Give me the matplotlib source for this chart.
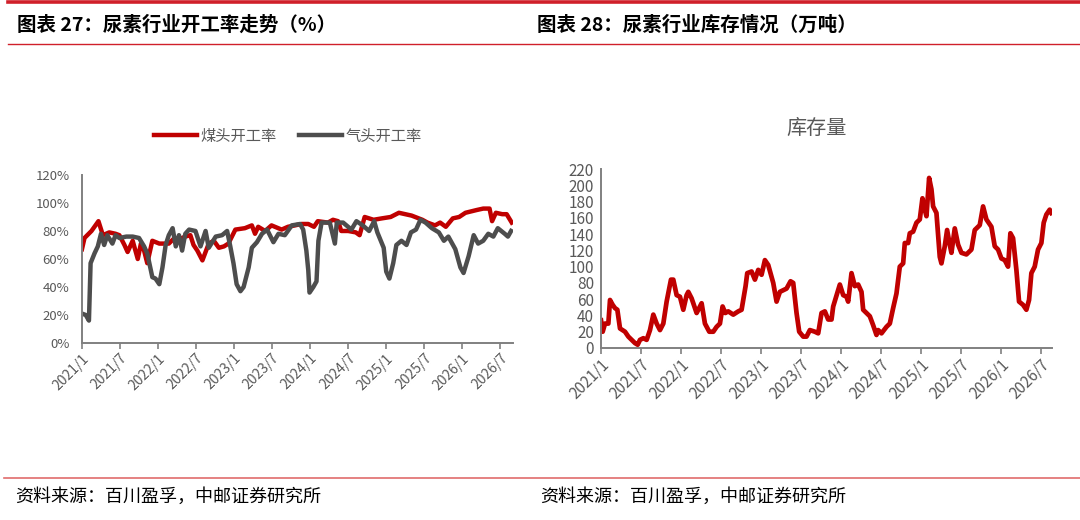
import matplotlib
matplotlib.use("Agg")
import matplotlib.pyplot as plt
from matplotlib.lines import Line2D

plt.rcParams["font.family"] = ["Noto Sans CJK SC", "DejaVu Sans"]

RED = "#C00000"
GRAY = "#4D4D4D"
TXT = "#595959"
AXC = "#808080"

# x values: months since 2021/1
tick_months = [0, 6, 12, 18, 24, 30, 36, 42, 48, 54, 60, 66]
tick_labels = ["2021/1", "2021/7", "2022/1", "2022/7", "2023/1", "2023/7",
               "2024/1", "2024/7", "2025/1", "2025/7", "2026/1", "2026/7"]

# 煤头开工率 (%)
coal_t = [0, 0.4, 1.5, 2.6, 3.3, 4.3, 5.3, 5.9, 6.7, 7.2, 8.0, 8.8, 9.3, 9.8,
          10.3, 11.1, 12.2, 13.7, 14.6, 15.3, 16.3, 17.1, 17.6, 18.2, 19.0,
          20.0, 20.8, 21.6, 22.4, 23.1, 24.2, 25.7, 26.8, 27.3, 27.8, 28.9,
          29.9, 31.5, 32.5, 33.6, 34.6, 35.7, 36.6, 37.2, 38.8, 39.6, 40.4,
          40.9, 42.0, 43.2, 43.8, 44.6, 46.0, 47.3, 48.7, 50.0, 51.0, 52.0,
          53.7, 54.5, 55.7, 56.5, 57.4, 58.5, 59.5, 60.5, 62.3, 63.3, 64.3,
          64.7, 65.3, 66.3, 67.0, 67.8]
coal_rate = [67, 75, 80, 87, 77, 79, 78, 77, 70, 65, 73, 60, 71, 66,
             57, 73, 71, 71, 75, 74, 76, 77, 70, 66, 59,
             71, 73, 68, 69, 71, 81, 82, 84, 78, 83, 80,
             84, 81, 83, 84, 85, 85, 83, 87, 86, 88, 87,
             80, 80, 79, 77, 90, 88, 89, 90, 93, 92, 91,
             88, 86, 84, 86, 83, 89, 90, 93, 95, 96, 96,
             87, 93, 92, 92, 86]

# 气头开工率 (%)
gas_t = [0, 0.6, 1.1, 1.36, 1.98, 2.5, 3.0, 3.5, 4.0, 4.8, 5.3, 5.9, 7.0, 8.0,
         9.0, 9.8, 10.3, 11.1, 11.6, 12.2, 12.7, 13.2, 13.7, 14.3, 14.8, 15.3,
         15.8, 16.3, 16.9, 17.9, 18.7, 19.5, 20.0, 21.1, 22.1, 22.9, 23.4,
         23.9, 24.4, 25.0, 25.5, 26.3, 26.8, 27.6, 28.4, 29.2, 30.2, 31.0,
         32.0, 33.1, 34.4, 34.9, 35.4, 35.7, 35.9, 36.5, 37.0, 37.3, 37.8,
         39.1, 39.9, 40.2, 41.2, 42.5, 43.3, 44.3, 45.3, 46.1, 46.6, 47.6,
         48.0, 48.5, 49.1, 49.6, 50.4, 51.2, 51.9, 52.7, 53.4, 54.2, 55.2,
         56.3, 57.1, 57.8, 58.9, 59.7, 60.2, 61.0, 61.8, 62.5, 63.3, 64.1,
         64.9, 65.6, 66.7, 67.2, 67.7]
gas_rate = [21, 20, 16, 57, 64, 69, 78, 70, 77, 71, 77, 75, 76, 76,
            75, 69, 64, 47, 46, 42, 54, 70, 77, 82, 69, 77,
            66, 78, 81, 80, 69, 80, 68, 76, 77, 80, 69,
            57, 42, 37, 40, 54, 68, 72, 78, 81, 72, 78,
            77, 84, 85, 81, 66, 52, 36, 40, 44, 73, 86,
            86, 71, 86, 86, 81, 87, 84, 80, 87, 79, 68,
            51, 46, 57, 70, 73, 70, 79, 81, 88, 86, 82,
            79, 73, 76, 67, 54, 50, 62, 77, 71, 73, 78,
            76, 82, 78, 76, 80]

# 库存量 (万吨)
stock_t = [0, 0.25, 0.6, 1.1, 1.35, 1.75, 2.1, 2.45, 2.85, 3.6, 4.1, 4.6, 5.1,
           5.5, 5.85, 6.35, 6.85, 7.35, 7.85, 8.35, 8.85, 9.35, 9.85, 10.5,
           10.85, 11.35, 11.85, 12.35, 12.85, 13.1, 13.6, 14.35, 15.1, 15.6,
           16.25, 16.85, 17.35, 17.85, 18.25, 18.65, 19.1, 19.85, 20.6, 21.1,
           21.7, 21.95, 22.6, 23.1, 23.6, 24.1, 24.6, 25.1, 25.85, 26.35,
           26.85, 27.85, 28.45, 28.85, 29.35, 29.75, 30.35, 30.85, 31.35,
           32.1, 32.6, 33.1, 33.6, 34.1, 34.6, 34.85, 35.85, 36.35, 36.85,
           37.1, 37.6, 38.1, 38.6, 39.1, 39.35, 40.35, 40.85, 41.35, 41.6,
           42.1, 42.85, 43.35, 43.85, 44.35, 44.85, 45.35, 45.6, 46.1, 46.35,
           46.85, 47.35, 47.85, 48.25, 48.6, 48.85, 49.25, 49.6, 49.85, 50.35,
           50.85, 51.1, 51.6, 51.95, 52.35, 52.6, 53.1, 53.6, 54.1, 54.85,
           55.6, 56.1, 56.85, 57.35, 57.85, 58.6, 59.1, 59.6, 60.1, 60.6,
           61.1, 61.45, 61.85, 62.35, 62.75, 63.35, 63.85, 64.25, 64.6, 65.1,
           65.6, 66.1, 66.45, 66.85, 67.35, 67.6]
stock = [34, 20, 30, 30, 59, 53, 49, 47, 24, 20, 14, 10, 6,
         4, 10, 12, 10, 22, 41, 30, 22, 30, 57, 84,
         84, 65, 63, 47, 65, 69, 61, 43, 55, 30,
         20, 20, 26, 30, 51, 43, 45, 41, 45, 47,
         76, 92, 94, 84, 96, 90, 108, 102, 80, 57,
         69, 73, 82, 80, 43, 20, 14, 14, 22,
         20, 18, 43, 45, 35, 35, 51, 78, 65, 63,
         57, 92, 76, 78, 69, 47, 39, 28, 16, 22,
         18, 26, 30, 49, 67, 100, 104, 129, 129, 141,
         143, 154, 158, 184, 170, 162, 209, 195, 174, 166,
         112, 104, 125, 145, 127, 117, 147, 127, 117, 115,
         121, 145, 151, 174, 158, 149, 125, 121, 110, 108,
         100, 141, 135, 96, 57, 53, 47, 59, 92, 100,
         121, 129, 154, 164, 170, 166]


def style_axis(ax, pad, ysize, xsize):
    for side in ("top", "right"):
        ax.spines[side].set_visible(False)
    for side in ("left", "bottom"):
        ax.spines[side].set_color(AXC)
        ax.spines[side].set_linewidth(1.4)
    ax.tick_params(axis="y", length=0, pad=pad, labelcolor=TXT, labelsize=ysize)
    ax.tick_params(axis="x", length=4, width=1.2, color=AXC, direction="out",
                   labelcolor=TXT, labelsize=xsize, pad=2)
    ax.set_xticks(tick_months)
    ax.set_xticklabels(tick_labels, rotation=45, ha="right", va="top",
                       rotation_mode="anchor")


fig = plt.figure(figsize=(10.8, 5.2), dpi=100)

ax1 = fig.add_axes([0.0759, 0.3404, 0.3991, 0.3231])
ax1.plot(coal_t, coal_rate, color=RED, lw=3.2, label="煤头开工率",
         solid_joinstyle="round")
ax1.plot(gas_t, gas_rate, color=GRAY, lw=3.2, label="气头开工率",
         solid_joinstyle="round")
ax1.set_xlim(0, 68)
ax1.set_ylim(0, 120)
ax1.set_yticks(range(0, 121, 20))
ax1.set_yticklabels([f"{v}%" for v in range(0, 121, 20)])
style_axis(ax1, 9, 9.5, 10)
fig.legend(handles=ax1.get_lines(), loc="center",
           bbox_to_anchor=(288 / 1080, 1 - 136 / 520), ncol=2, frameon=False,
           handlelength=2.8, handletextpad=0.2, columnspacing=1.5,
           prop={"size": 11}, labelcolor=TXT)

ax2 = fig.add_axes([0.5565, 0.3308, 0.4176, 0.3442])
ax2.plot(stock_t, stock, color=RED, lw=3.4, solid_joinstyle="round")
ax2.set_xlim(0, 67.7)
ax2.set_ylim(0, 220)
ax2.set_yticks(range(0, 221, 20))
style_axis(ax2, 5, 11, 11)
fig.text(817 / 1080, 1 - 128 / 520, "库存量", ha="center", va="center",
         fontsize=14.5, color=TXT)

# page decoration: header and footer rules
fig.add_artist(Line2D([8 / 1080, 1], [1 - 2 / 520, 1 - 2 / 520],
                      transform=fig.transFigure, color="#D0202A", lw=2.6))
fig.add_artist(Line2D([8 / 1080, 1], [1 - 44 / 520, 1 - 44 / 520],
                      transform=fig.transFigure, color="#D0202A", lw=1.0))
fig.add_artist(Line2D([4 / 1080, 1], [1 - 478 / 520, 1 - 478 / 520],
                      transform=fig.transFigure, color="#E06C6C", lw=1.2))

fig.text(17 / 1080, 1 - 25 / 520, "图表 27：尿素行业开工率走势（%）",
         ha="left", va="center", fontsize=14, fontweight="bold", color="black")
fig.text(537 / 1080, 1 - 25 / 520, "图表 28：尿素行业库存情况（万吨）",
         ha="left", va="center", fontsize=14, fontweight="bold", color="black")
fig.text(15 / 1080, 1 - 497 / 520, "资料来源：百川盈孚，中邮证券研究所",
         ha="left", va="center", fontsize=13, color="black")
fig.text(540 / 1080, 1 - 497 / 520, "资料来源：百川盈孚，中邮证券研究所",
         ha="left", va="center", fontsize=13, color="black")

fig.savefig("out.png", dpi=100)
